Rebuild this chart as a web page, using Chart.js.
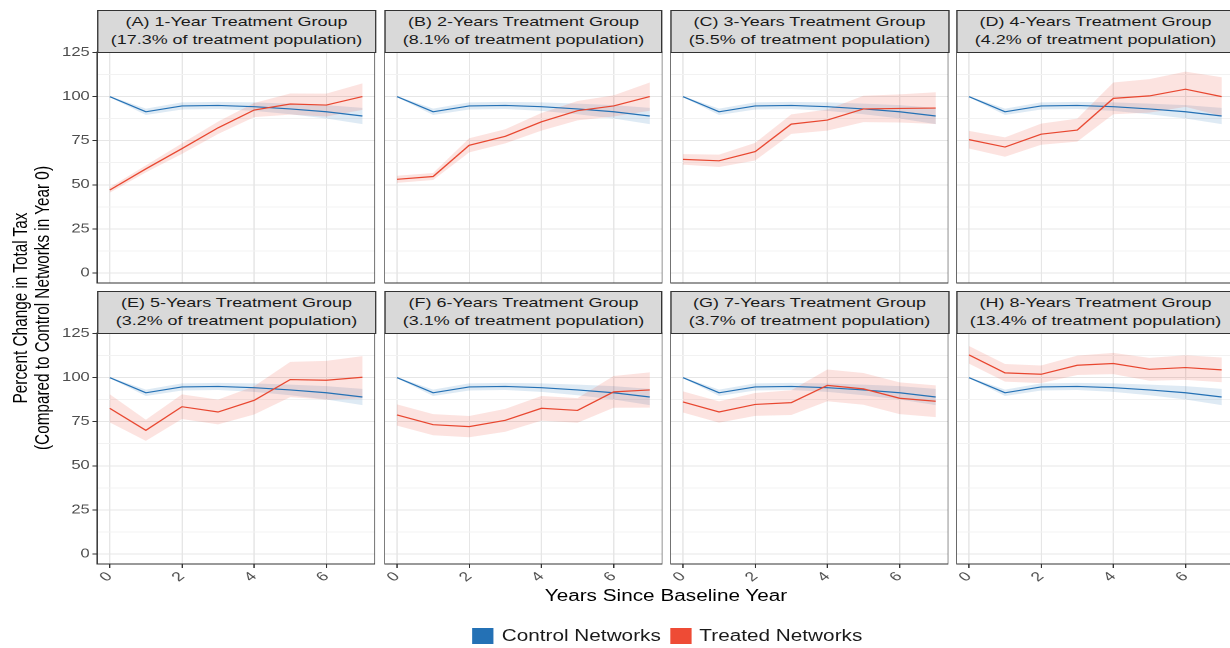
<!DOCTYPE html>
<html>
<head>
<meta charset="utf-8">
<title>Percent Change in Total Tax by Treatment Group</title>
<script src="https://cdn.jsdelivr.net/npm/chart.js@4.4.1/dist/chart.umd.min.js"></script>
<style>
  html, body { margin: 0; padding: 0; background: #fff; overflow: hidden; }
  body { width: 1230px; height: 648px; font-family: "Liberation Sans", Arial, sans-serif; }
  /* the reference figure is stretched horizontally, so the whole figure is laid out narrower and scaled */
  #fig { position: absolute; left: 0; top: 0; height: 648px; transform-origin: 0 0; }
  .strip { position: absolute; box-sizing: border-box; background: #d9d9d9; border: 1px solid #333;
           color: #1a1a1a; font-size: 13.5px; line-height: 18px; text-align: center; padding-top: 2px; }
  .panel { position: absolute; }
  .xtitle { position: absolute; font-size: 15.6px; color: #000; text-align: center; white-space: nowrap; }
  .ytitle { position: absolute; font-size: 15.3px; line-height: 17px; color: #000; text-align: center;
            width: 400px; white-space: nowrap; transform: rotate(-90deg); }
  .legend { position: absolute; display: flex; align-items: center; font-size: 15.6px; color: #1a1a1a; white-space: nowrap; }
  .legend .key { width: 16px; height: 16px; margin-right: 6px; }
  .legend .item { display: flex; align-items: center; margin-right: 7px; }
</style>
</head>
<body>
<div id="fig"></div>
<script>
// ---- data ----
const years = [0, 1, 2, 3, 4, 5, 6, 7];
const xTicks = [0, 2, 4, 6];
const yTicks = [0, 12.5, 25, 37.5, 50, 62.5, 75, 87.5, 100, 112.5, 125];

const groupTitles = [
  "(A) 1-Year Treatment Group", "(B) 2-Years Treatment Group",
  "(C) 3-Years Treatment Group", "(D) 4-Years Treatment Group",
  "(E) 5-Years Treatment Group", "(F) 6-Years Treatment Group",
  "(G) 7-Years Treatment Group", "(H) 8-Years Treatment Group"
];
const groupShares = [
  "(17.3% of treatment population)", "(8.1% of treatment population)",
  "(5.5% of treatment population)", "(4.2% of treatment population)",
  "(3.2% of treatment population)", "(3.1% of treatment population)",
  "(3.7% of treatment population)", "(13.4% of treatment population)"
];

// control networks (same in every panel), ribbon given as half-width
const controlMean = [100, 91.4, 94.7, 95.0, 94.3, 93.0, 91.4, 89.0];
const controlBand = [0.3, 1.8, 2.0, 2.0, 2.4, 3.0, 3.8, 4.6];

// treated networks, one line per panel
const treatedA = [47.0, 59.0, 70.5, 82.3, 92.4, 95.8, 95.2, 100.0];
const treatedB = [53.1, 54.7, 72.4, 77.5, 85.7, 92.0, 94.7, 100.0];
const treatedC = [64.4, 63.6, 68.8, 84.4, 86.7, 93.0, 93.3, 93.5];
const treatedD = [75.6, 71.4, 78.7, 81.0, 99.0, 100.4, 104.2, 100.0];
const treatedE = [82.6, 70.1, 83.5, 80.5, 87.1, 98.9, 98.5, 100.2];
const treatedF = [78.8, 73.3, 72.2, 75.8, 82.6, 81.4, 91.9, 93.0];
const treatedG = [86.2, 80.5, 84.8, 85.8, 95.6, 93.6, 88.3, 86.6];
const treatedH = [112.9, 102.7, 101.9, 107.0, 108.0, 104.7, 105.7, 104.4];

const bandA = [1.5, 2.0, 3.0, 3.5, 4.0, 6.0, 6.5, 7.5];
const bandB = [2.0, 2.0, 4.0, 4.0, 5.0, 5.5, 6.0, 8.0];
const bandC = [3.0, 3.5, 5.0, 5.5, 6.0, 7.5, 8.0, 9.0];
const bandD = [5.0, 5.5, 6.0, 6.5, 9.0, 9.5, 10.0, 11.0];
const bandE = [8.0, 6.0, 7.0, 7.0, 8.0, 10.0, 11.0, 12.0];
const bandF = [6.0, 6.0, 6.0, 6.5, 7.0, 7.0, 9.0, 10.0];
const bandG = [6.0, 6.0, 6.5, 7.0, 9.0, 9.0, 9.0, 9.0];
const bandH = [5.0, 5.0, 5.0, 5.5, 6.0, 6.5, 7.0, 7.0];

const treated = [treatedA, treatedB, treatedC, treatedD, treatedE, treatedF, treatedG, treatedH];
const bands = [bandA, bandB, bandC, bandD, bandE, bandF, bandG, bandH];

// ---- layout ----
const S = 1.33;                       // horizontal stretch of the figure
const W = 1230 / S;
const PANEL_X = [97, 384, 670, 956].map(v => v / S);
const PANEL_W = 279 / S;
const PANEL_Y = [52, 333];
const PANEL_H = 231;
const STRIP_Y = [10, 291];
const AXIS_W = 30;
const X_AXIS_H = 28;

const BLUE = "#2471b5";
const RED = "#e8462f";
const BLUE_FILL = "rgba(36, 113, 181, 0.15)";
const RED_FILL = "rgba(232, 70, 47, 0.15)";

Chart.defaults.font.family = "'Liberation Sans', Arial, sans-serif";

const fig = document.getElementById("fig");
fig.style.width = W + "px";
fig.style.transform = "scaleX(" + S + ")";

const panelFrame = {
  id: "panelFrame",
  afterDraw(chart) {
    const a = chart.chartArea;
    const ctx = chart.ctx;
    ctx.save();
    ctx.strokeStyle = "#333";
    ctx.lineWidth = 1;
    ctx.strokeRect(a.left, a.top, a.right - a.left, a.bottom - a.top);
    ctx.restore();
  }
};

function pts(arr) {
  return years.map((x, k) => ({ x: x, y: arr[k] }));
}

function makePanel(i) {
  const row = Math.floor(i / 4), col = i % 4;
  const left = col === 0 ? PANEL_X[col] - AXIS_W : PANEL_X[col];
  const width = PANEL_W + (col === 0 ? AXIS_W : 0);
  const top = PANEL_Y[row] - 10;
  const height = 10 + PANEL_H + (row === 1 ? X_AXIS_H : 10);

  const box = document.createElement("div");
  box.className = "panel";
  box.style.left = left + "px";
  box.style.top = top + "px";
  const canvas = document.createElement("canvas");
  canvas.width = width;
  canvas.height = height;
  box.appendChild(canvas);
  fig.appendChild(box);

  const t = treated[i], b = bands[i];
  const tUp = t.map((v, k) => v + b[k]);
  const tLo = t.map((v, k) => v - b[k]);
  const cUp = controlMean.map((v, k) => v + controlBand[k]);
  const cLo = controlMean.map((v, k) => v - controlBand[k]);

  const ribbon = { pointRadius: 0, borderWidth: 0, borderColor: "transparent", tension: 0 };

  new Chart(canvas, {
    type: "line",
    data: {
      datasets: [
        { label: "Treated Networks", data: pts(t), borderColor: RED, borderWidth: 1.2, pointRadius: 0, tension: 0, fill: false, order: 0 },
        { label: "Control Networks", data: pts(controlMean), borderColor: BLUE, borderWidth: 1.2, pointRadius: 0, tension: 0, fill: false, order: 1 },
        Object.assign({ data: pts(tUp), fill: "+1", backgroundColor: RED_FILL, order: 2 }, ribbon),
        Object.assign({ data: pts(tLo), fill: false, order: 2 }, ribbon),
        Object.assign({ data: pts(cUp), fill: "+1", backgroundColor: BLUE_FILL, order: 3 }, ribbon),
        Object.assign({ data: pts(cLo), fill: false, order: 3 }, ribbon)
      ]
    },
    options: {
      responsive: false,
      devicePixelRatio: 2,
      animation: false,
      events: [],
      layout: { padding: { top: 10, bottom: row === 1 ? 0 : 10, left: 0, right: 0 } },
      plugins: { legend: { display: false }, tooltip: { enabled: false } },
      scales: {
        x: {
          type: "linear",
          min: -0.35,
          max: 7.35,
          afterBuildTicks: s => { s.ticks = xTicks.map(v => ({ value: v })); },
          afterFit: s => { s.height = row === 1 ? X_AXIS_H : 0; },
          border: { display: false },
          grid: { color: "#e6e6e6", lineWidth: 1, drawTicks: row === 1, tickLength: 4, tickColor: "#333" },
          ticks: { display: row === 1, autoSkip: false, minRotation: 45, maxRotation: 45, padding: 1,
                   color: "#4d4d4d", font: { size: 13 } }
        },
        y: {
          min: -5.7,
          max: 125.3,
          afterBuildTicks: s => { s.ticks = yTicks.map(v => ({ value: v })); },
          afterFit: s => { s.width = col === 0 ? AXIS_W : 0; },
          border: { display: false },
          grid: {
            color: c => (c.tick && c.tick.value % 25 === 0) ? "#e6e6e6" : "#f2f2f2",
            lineWidth: 1,
            drawTicks: col === 0,
            tickLength: 3.5,
            tickColor: c => (c.tick && c.tick.value % 25 === 0) ? "#333" : "transparent"
          },
          ticks: { display: col === 0, autoSkip: false, padding: 2, color: "#4d4d4d", font: { size: 12.5 },
                   callback: v => (v % 25 === 0 ? String(v) : "") }
        }
      }
    },
    plugins: [panelFrame]
  });

  const strip = document.createElement("div");
  strip.className = "strip";
  strip.style.left = PANEL_X[col] + "px";
  strip.style.top = STRIP_Y[row] + "px";
  strip.style.width = PANEL_W + "px";
  strip.style.height = (PANEL_Y[row] - STRIP_Y[row] + 1) + "px";
  strip.innerHTML = groupTitles[i] + "<br>" + groupShares[i];
  fig.appendChild(strip);
}

for (let i = 0; i < 8; i++) makePanel(i);

// axis titles
const xt = document.createElement("div");
xt.className = "xtitle";
xt.textContent = "Years Since Baseline Year";
xt.style.left = (666 / S - 150) + "px";
xt.style.width = "300px";
xt.style.top = "587px";
fig.appendChild(xt);

const yt = document.createElement("div");
yt.className = "ytitle";
yt.innerHTML = "Percent Change in Total Tax<br>(Compared to Control Networks in Year 0)";
yt.style.left = (31 / S - 200) + "px";
yt.style.top = (308 - 17) + "px";
fig.appendChild(yt);

// legend
const legendItems = [["Control Networks", BLUE], ["Treated Networks", "#ee4b35"]];
const lg = document.createElement("div");
lg.className = "legend";
legendItems.forEach(([name, color]) => {
  const it = document.createElement("div");
  it.className = "item";
  const k = document.createElement("div");
  k.className = "key";
  k.style.background = color;
  const s = document.createElement("span");
  s.textContent = name;
  it.appendChild(k);
  it.appendChild(s);
  lg.appendChild(it);
});
fig.appendChild(lg);
lg.style.top = (636 - 9) + "px";
lg.style.left = (672 / S - lg.offsetWidth / 2) + "px";
</script>
</body>
</html>
